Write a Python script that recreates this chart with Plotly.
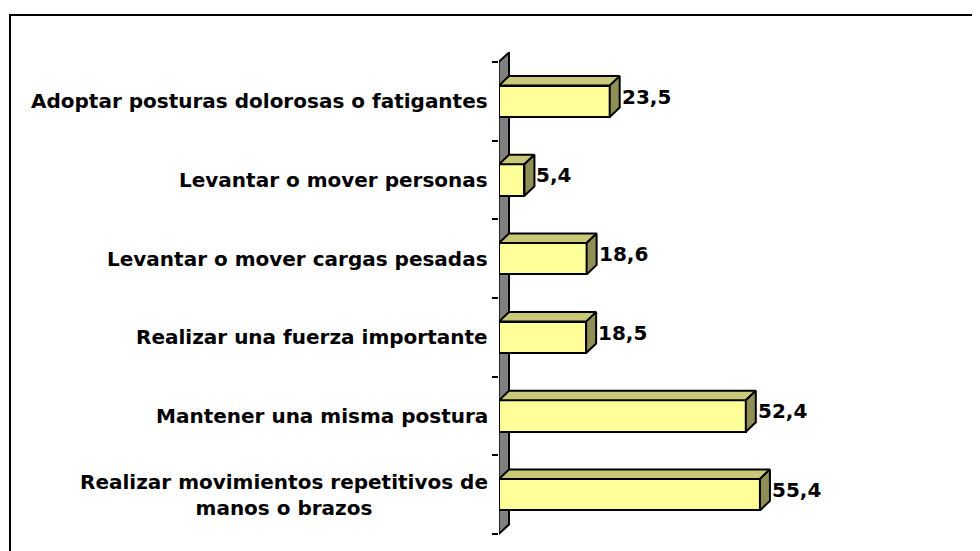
import plotly.graph_objects as go

categories = [
    "Realizar movimientos repetitivos de<br>manos o brazos",
    "Mantener una misma postura",
    "Realizar una fuerza importante",
    "Levantar o mover cargas pesadas",
    "Levantar o mover personas",
    "Adoptar posturas dolorosas o fatigantes",
]
values = [55.4, 52.4, 18.5, 18.6, 5.4, 23.5]
value_labels = ["55,4", "52,4", "18,5", "18,6", "5,4", "23,5"]

FRONT = "#FFFF99"
TOP = "#C8C878"
SIDE = "#8F8F55"
WALL = "#808080"

# page has an 8px body margin; figure sized to fit the 980x551 window
W, H = 972, 543
L, R = 491, 10
T, B = 44, 9
XMAX = 100.0
plot_w = W - L - R
plot_h = H - T - B
ppu_x = plot_w / XMAX
n = len(categories)
ppu_y = 78.67
y_top = 5.5 + 10 / ppu_y
y_bot = y_top - plot_h / ppu_y

dx = 10 / ppu_x
dy = 9.5 / ppu_y
hw = 0.2

fig = go.Figure()

idx = list(range(n))
fig.add_trace(go.Bar(
    y=idx, x=values, orientation="h", width=2 * hw,
    marker=dict(color=FRONT, line=dict(color="black", width=2)),
    hoverinfo="skip", showlegend=False,
))

for i, v in enumerate(values):
    # top face
    fig.add_trace(go.Scatter(
        x=[0, v, v + dx, dx, 0], y=[i + hw, i + hw, i + hw + dy, i + hw + dy, i + hw],
        mode="lines", fill="toself", fillcolor=TOP,
        line=dict(color="black", width=2), hoverinfo="skip", showlegend=False,
    ))
    # side face
    fig.add_trace(go.Scatter(
        x=[v, v, v + dx, v + dx, v], y=[i - hw, i + hw, i + hw + dy, i - hw + dy, i - hw],
        mode="lines", fill="toself", fillcolor=SIDE,
        line=dict(color="black", width=2), hoverinfo="skip", showlegend=False,
    ))

shapes = [
    # wall
    dict(type="path", xref="x", yref="y", layer="below",
         path=f"M {-0.3/ppu_x},{-0.5} L {-0.3/ppu_x},{n-0.5} L {dx},{n-0.5+dy} L {dx},{-0.5+dy} Z",
         fillcolor=WALL, line=dict(color="black", width=2)),
    # frame
    dict(type="rect", xref="paper", yref="paper",
         x0=(2 - L) / plot_w, x1=2.0, y0=-0.5, y1=(H - B - 7) / plot_h,
         line=dict(color="black", width=2), fillcolor="rgba(0,0,0,0)", layer="above"),
]

annotations = []
for i, c in enumerate(categories):
    annotations.append(dict(
        x=0, y=i, xref="x", yref="y", text=c, showarrow=False,
        xanchor="right", yanchor="middle", align="center", xshift=-9,
        font=dict(family="DejaVu Sans", size=20, color="black", weight="bold"),
    ))
for i, (v, t) in enumerate(zip(values, value_labels)):
    annotations.append(dict(
        x=v + dx, y=i + dy / 2, xref="x", yref="y", text=t, showarrow=False,
        xanchor="left", yanchor="middle", xshift=0,
        font=dict(family="DejaVu Sans", size=20, color="black", weight="bold"),
    ))

fig.update_layout(
    width=W, height=H,
    margin=dict(l=L, r=R, t=T, b=B, pad=0),
    paper_bgcolor="white", plot_bgcolor="white",
    bargap=0,
    xaxis=dict(range=[0, XMAX], visible=False, fixedrange=True),
    yaxis=dict(range=[y_bot, y_top], showgrid=False, zeroline=False, showline=False,
               tickvals=[k - 0.5 for k in range(n + 1)], ticks="outside", ticklen=6,
               tickwidth=2, tickcolor="black", showticklabels=False, fixedrange=True),
    shapes=shapes, annotations=annotations,
)

fig.write_html("out.html")
